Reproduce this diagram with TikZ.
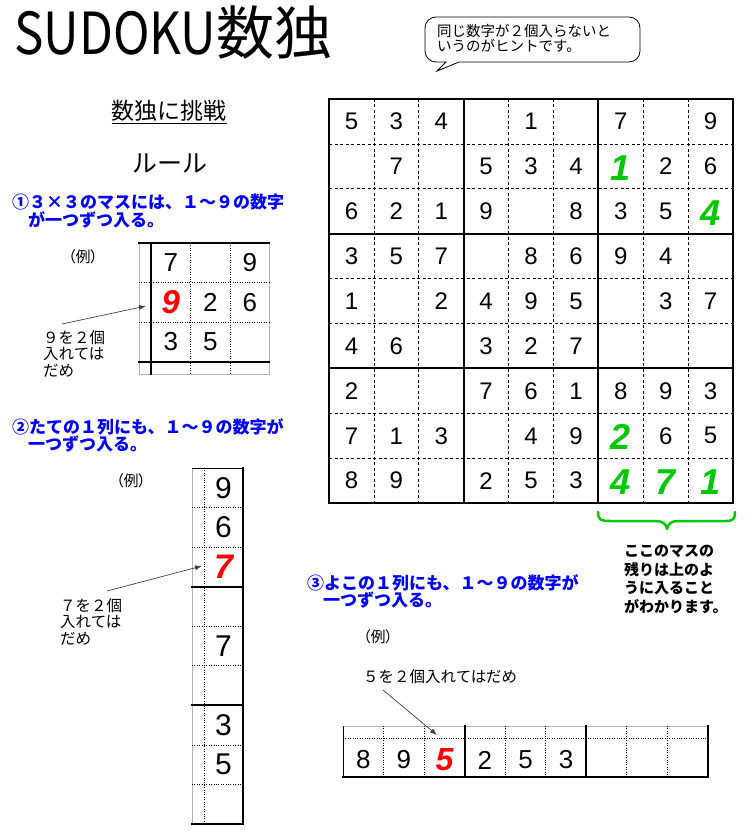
\documentclass[tikz,border=0pt]{standalone}
\usepackage{fontspec}
\setmainfont{Liberation Sans}
\newfontfamily\jp{Noto Sans CJK JP}
\newfontfamily\jpp[RawFeature=+palt]{Noto Sans CJK JP}
\usetikzlibrary{arrows.meta}

\definecolor{ruleblue}{RGB}{0,0,255}
\definecolor{hintgreen}{RGB}{0,200,0}
\definecolor{badred}{RGB}{255,0,0}

\begin{document}
\begin{tikzpicture}[x=1pt, y=-1pt,
		blockline/.style={line width=2pt, line cap=rect},
		cellline/.style={line width=0.8pt, dash pattern=on 3pt off 2.5pt},
		dotline/.style={line width=0.8pt, dash pattern=on 1pt off 1.4pt},
		edgeline/.style={line width=0.8pt, black!30},
		num/.style={inner sep=0pt, font=\fontsize{24}{24}\selectfont},
		bignum/.style={inner sep=0pt, font=\fontsize{26}{26}\selectfont},
		rednum/.style={inner sep=0pt, text=badred, font=\bfseries\itshape\fontsize{33}{33}\selectfont},
		greennum/.style={inner sep=0pt, text=hintgreen, font=\bfseries\itshape\fontsize{36}{36}\selectfont},
		ruletext/.style={inner sep=0pt, anchor=base west, align=left, text=ruleblue,
			font=\jp\bfseries\fontsize{17}{16.5}\selectfont},
		smalltext/.style={inner sep=0pt, align=left, font=\jp\fontsize{15.5}{16.5}\selectfont},
		arrw/.style={-{Latex[length=7pt,width=5pt]}, line width=0.7pt, black!75}]

		\useasboundingbox (0,0) rectangle (748,840);

		% title and hint bubble
		\node [inner sep=0pt, anchor=base west, font=\jp\fontsize{58}{58}\selectfont] (title) at (14,55)
			{\scalebox{0.85}[1]{SUDOKU}数独};
		\draw [line width=0.8pt] (459,62) -- (437,71) -- (446,62)
			{[rounded corners=11pt] -- (425,62) -- (425,17) -- (640,17) -- (640,62)} -- cycle;
		\node [smalltext, anchor=north west, font=\jp\fontsize{14.5}{15.5}\selectfont] (hint) at (437,24)
			{同じ数字が２個入らないと\\いうのがヒントです。};

		\node [inner sep=0pt, font=\jp\fontsize{23}{23}\selectfont] (challenge) at (169,112) {\underline{数独に挑戦}};
		\node [inner sep=0pt, font=\jp\fontsize{25}{25}\selectfont] (rules) at (170,163) {ルール};

		% draw the big grid
		\foreach \i in {1,2,4,5,7,8} {
			\draw [cellline] (329+\i*44.9,99) -- (329+\i*44.9,503);
			\draw [cellline] (329,99+\i*44.9) -- (733,99+\i*44.9);
		}
		\foreach \i in {0,3,6,9} {
			\draw [blockline] (329+\i*44.9,99) -- (329+\i*44.9,503);
			\draw [blockline] (329,99+\i*44.9) -- (733,99+\i*44.9);
		}

		% given numbers (- is an empty cell)
		\foreach \rowlist [count=\r] in {{5,3,4,-,1,-,7,-,9}, {-,7,-,5,3,4,-,2,6}, {6,2,1,9,-,8,3,5,-},
				{3,5,7,-,8,6,9,4,-}, {1,-,2,4,9,5,-,3,7}, {4,6,-,3,2,7,-,-,-},
				{2,-,-,7,6,1,8,9,3}, {7,1,3,-,4,9,-,6,5}, {8,9,-,2,5,3,-,-,-}} {
			\foreach \val [count=\c] in \rowlist {
				\if-\val\else
					\node [num] (m-\r-\c) at (329+\c*44.9-22.45,99+\r*44.9-22.45) {\val};
				\fi
			}
		}

		% numbers that fill the corner box
		\foreach \r/\c/\val in {2/7/1, 3/9/4, 8/7/2, 9/7/4, 9/8/7, 9/9/1}
			\node [greennum] (g-\r-\c) at (329+\c*44.9-22.45,99+\r*44.9-21) {\val};

		\draw [hintgreen, line width=2.5pt, line cap=round, line join=round]
			(598,512) .. controls (598,520) and (601,521) .. (610,521) -- (656,521)
			.. controls (663,521) and (666,524) .. (667,529)
			.. controls (668,524) and (671,521) .. (678,521) -- (726,521)
			.. controls (734,521) and (735,518) .. (735,512);
		\node [smalltext, anchor=north west, font=\jp\bfseries\fontsize{15}{18.5}\selectfont] (note) at (624,545)
			{ここのマスの\\残りは上のよ\\うに入ること\\がわかります。};

		% rule 1: the 3x3 box
		\node [ruletext] (rule1) at (12,226) {①３×３のマスには、１～９の数字\\\hspace{16pt}が一つずつ入る。};
		\node [inner sep=0pt, font=\jpp\fontsize{15}{15}\selectfont] (ex1) at (83,257) {（例）};

		\draw [edgeline] (139,243) -- (139,374) -- (269,374) -- (269,243);
		\foreach \i in {1,2} {
			\draw [dotline] (139,243+\i*39.5) -- (269,243+\i*39.5);
			\draw [dotline] (151+\i*39.5,243) -- (151+\i*39.5,374);
		}
		\draw [blockline] (139,243) -- (269,243);
		\draw [blockline] (151,243) -- (151,374);
		\draw [blockline] (139,362) -- (269,362);

		\foreach \r/\c/\val in {1/1/7, 1/3/9, 2/2/2, 2/3/6, 3/1/3, 3/2/5}
			\node [bignum] (b-\r-\c) at (151+\c*39.5-19.75,243+\r*39.5-19.75) {\val};
		\node [rednum] (bad1) at (170.75,302.25) {9};

		\coordinate (t1) at (62,324);
		\coordinate (h1) at (146,306);
		\draw [arrw] (t1) -- (h1);
		\node [smalltext, anchor=north west] (why1) at (43,330) {９を２個\\入れては\\だめ};

		% rule 2: the column
		\node [ruletext] (rule2) at (12,450) {②たての１列にも、１～９の数字が\\\hspace{16pt}一つずつ入る。};
		\node [inner sep=0pt, font=\jpp\fontsize{15}{15}\selectfont] (ex2) at (131,481) {（例）};

		\draw [edgeline] (192,468) -- (192,824);
		\draw [dotline] (204,468) -- (204,824);
		\foreach \i in {1,2,4,5,7,8}
			\draw [dotline] (192,468+\i*39.56) -- (243,468+\i*39.56);
		\draw [line width=0.8pt] (192,468) -- (243,468);
		\foreach \i in {3,6,9}
			\draw [blockline] (192,468+\i*39.56) -- (243,468+\i*39.56);
		\draw [blockline] (243,468) -- (243,824);

		\foreach \r/\val in {1/9, 2/6, 5/7, 7/3, 8/5}
			\node [num, font=\fontsize{30}{30}\selectfont] (c-\r) at (223.5,468+\r*39.56-19.78) {\val};
		\node [rednum, font=\bfseries\itshape\fontsize{34}{34}\selectfont] (bad2) at (223.5,567.1) {7};

		\coordinate (t2) at (107,591);
		\coordinate (h2) at (202,566);
		\draw [arrw] (t2) -- (h2);
		\node [smalltext, anchor=north west] (why2) at (60,598) {７を２個\\入れては\\だめ};

		% rule 3: the row
		\node [ruletext] (rule3) at (307,606) {③よこの１列にも、１～９の数字が\\\hspace{16pt}一つずつ入る。};
		\node [inner sep=0pt, font=\jpp\fontsize{15}{15}\selectfont] (ex3) at (378,637) {（例）};
		\node [smalltext, anchor=west] (why3) at (363,677) {５を２個入れてはだめ};

		\draw [edgeline] (343,726) -- (708,726);
		\draw [dotline] (343,738) -- (708,738);
		\draw [line width=0.8pt] (343,726) -- (343,777);
		\foreach \i in {1,2,4,5,7,8}
			\draw [dotline] (343+\i*40.55,726) -- (343+\i*40.55,777);
		\foreach \i in {3,6,9}
			\draw [blockline] (343+\i*40.55,726) -- (343+\i*40.55,777);
		\draw [blockline] (343,777) -- (708,777);

		\foreach \c/\val in {1/8, 2/9, 4/2, 5/5, 6/3}
			\node [bignum] (r-\c) at (343+\c*40.55-20.27,760) {\val};
		\node [rednum, font=\bfseries\itshape\fontsize{32}{32}\selectfont] (bad3) at (444.4,760) {5};

		\coordinate (t3) at (383,690);
		\coordinate (h3) at (437,735);
		\draw [arrw] (t3) -- (h3);
\end{tikzpicture}
\end{document}
